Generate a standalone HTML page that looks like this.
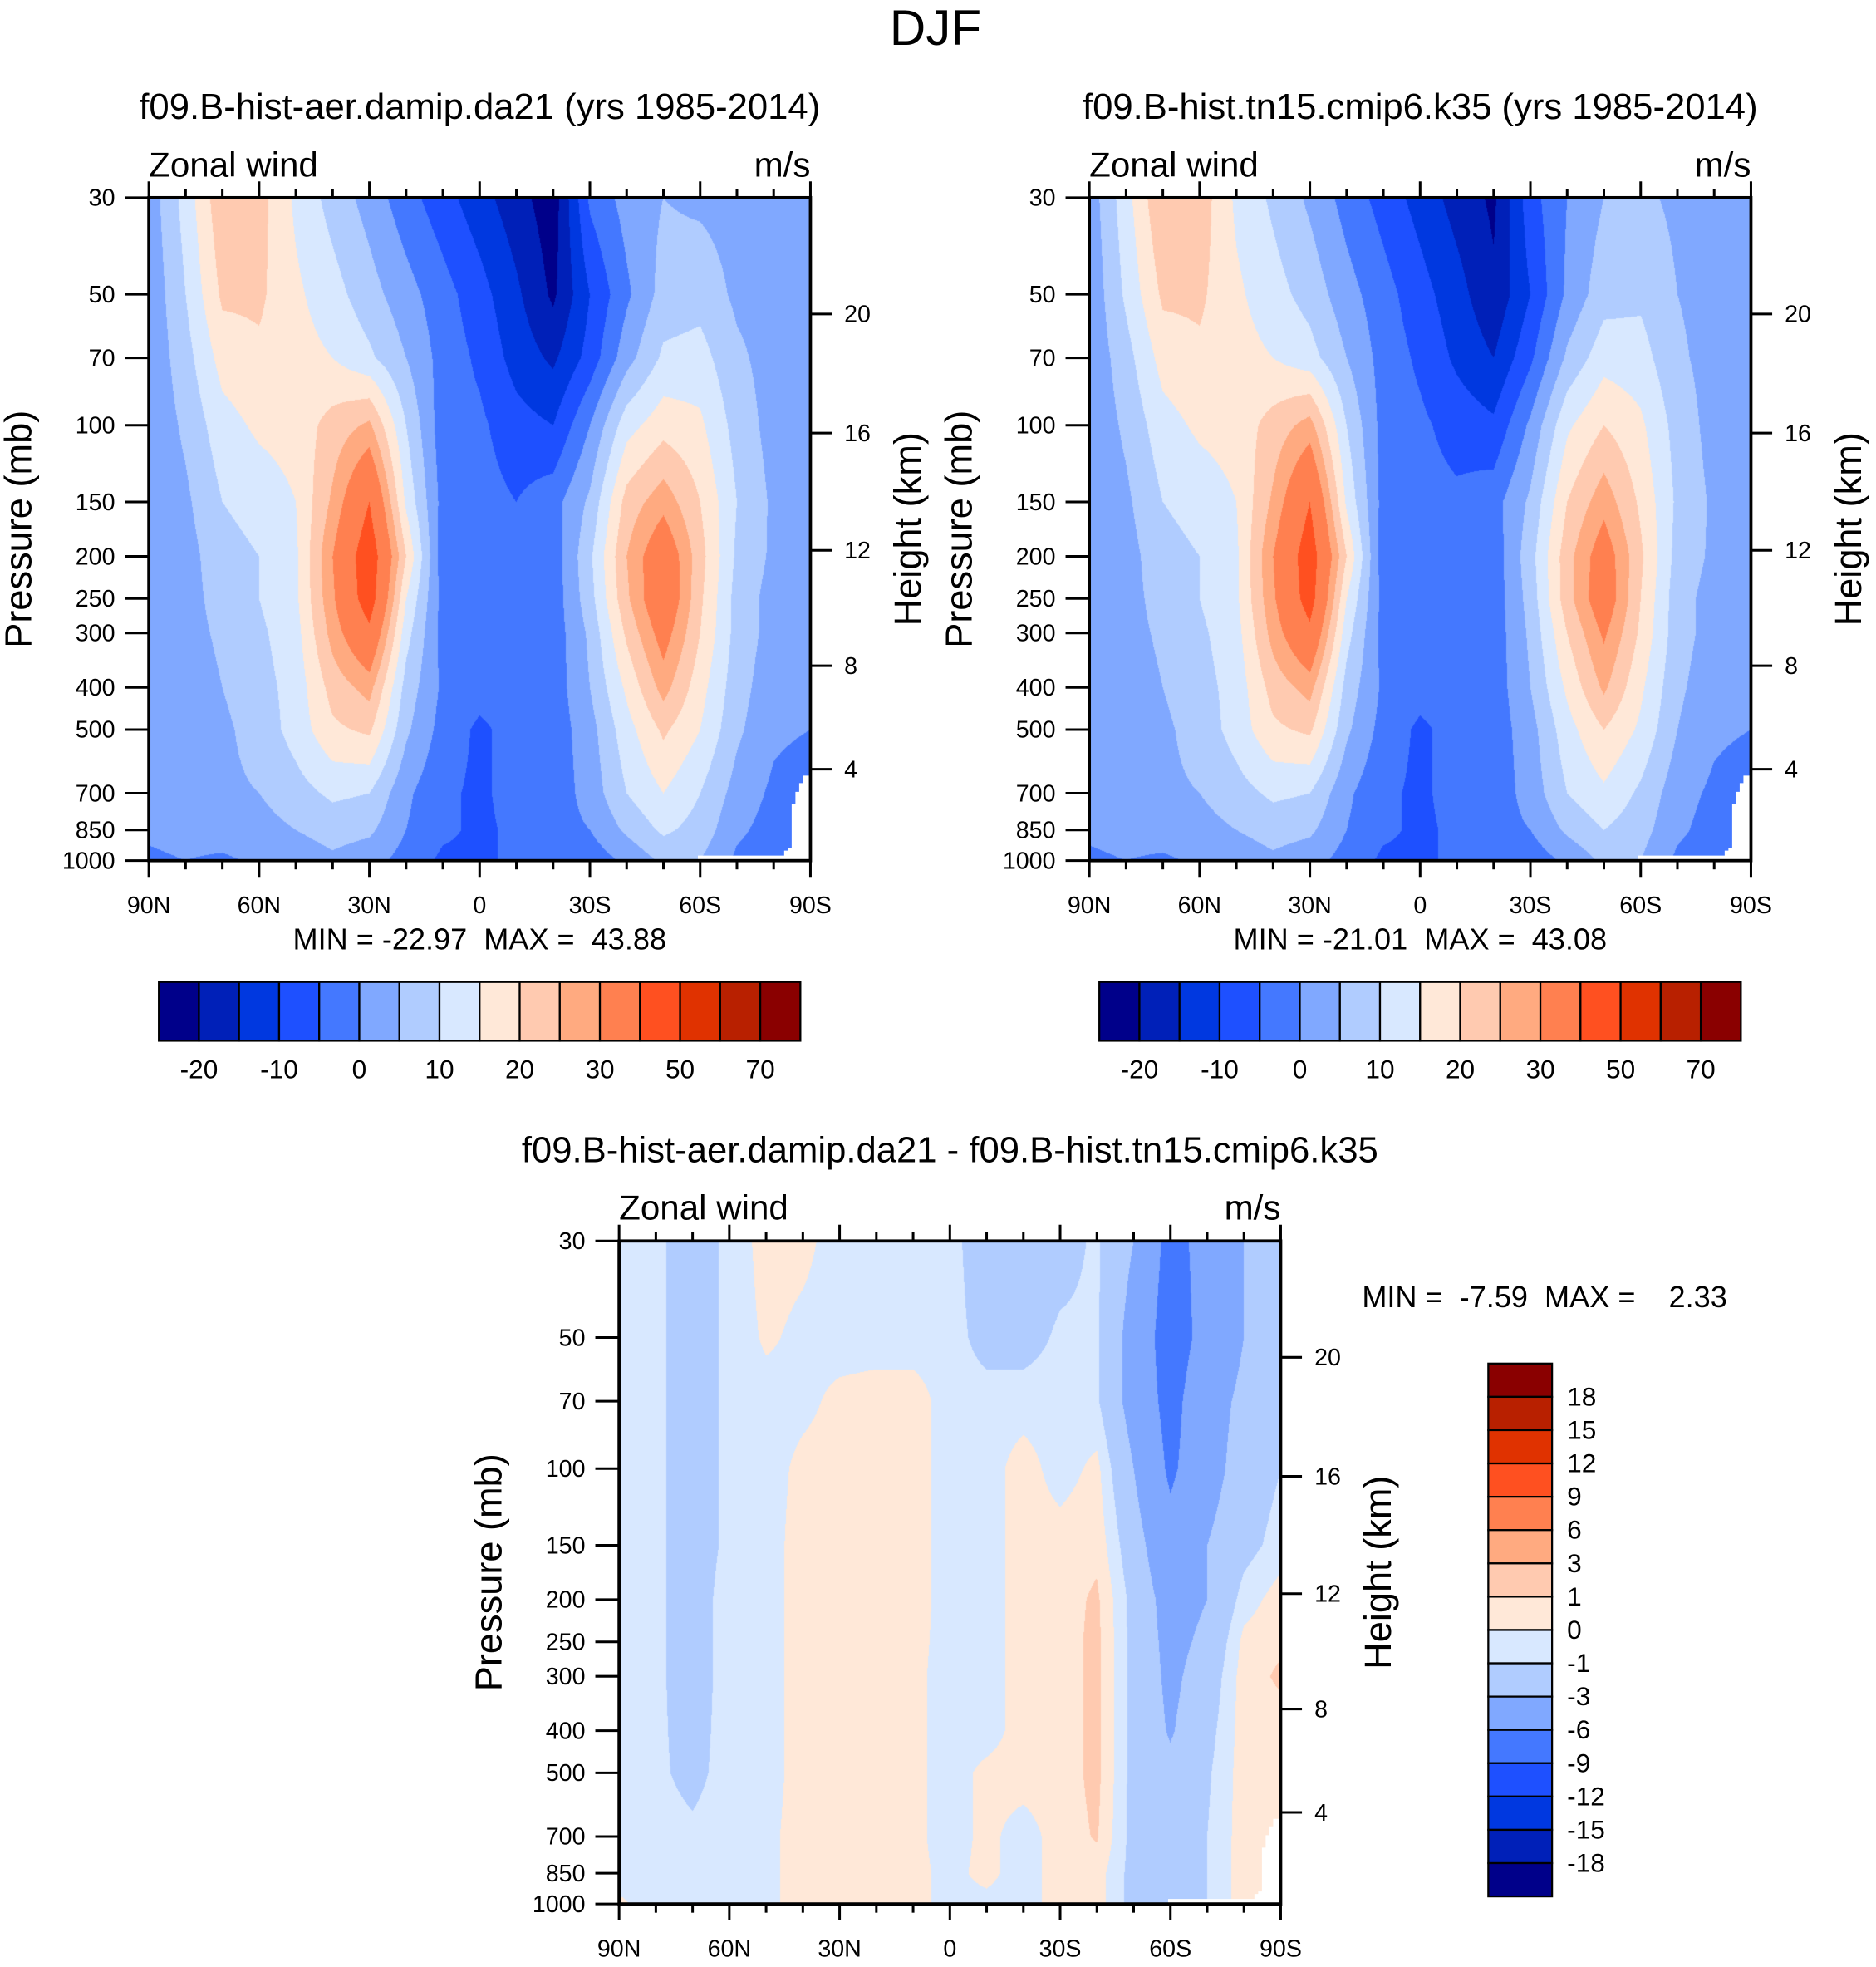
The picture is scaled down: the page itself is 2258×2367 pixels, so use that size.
<!DOCTYPE html>
<html><head><meta charset="utf-8">
<style>
html,body{margin:0;padding:0;background:#fff;}
#wrap{position:relative;width:2258px;height:2367px;overflow:hidden;}
canvas,svg{position:absolute;left:0;top:0;}
text{font-family:"Liberation Sans",Arial,sans-serif;fill:#000;white-space:pre;}
</style></head>
<body>
<div id="wrap">
<canvas id="cv" width="2258" height="2367"></canvas>
<svg id="sv" width="2258" height="2367" viewBox="0 0 1500 1572.4" xml:space="preserve"></svg>
</div>
<script>
// ---- data ----
const lats = [90,80,70,60,50,40,30,20,10,0,-10,-20,-30,-40,-50,-60,-70,-80,-90];
const pLevels = [30,50,70,100,150,200,250,300,400,500,700,850,1000];
const field1 = [
[2,12,24,22,14,8,3,-3,-8,-13,-18,-23,-4,2,5,4,3,2,2],
[1,10,21,21,16,12,7,2,-3,-8,-14,-21,-10,-1,7,8,4,3,2],
[1,8,17,19,17,15,11,5,-2,-6,-12,-16,-8,3,11,12,6,3,2],
[1,6,13,16,17,22,26,10,-3,-4,-8,-10,0,13,18,16,8,3,2],
[1,4,10,12,15,26,40,14,-2,-3,-5,-2,6,22,28,20,10,4,2],
[1,3,8,10,14,30,46,20,-3,-3,-3,-3,9,25,36,22,9,4,2],
[1,3,7,10,14,29,45,15,-2,-3,-3,-3,8,24,37,21,8,3,2],
[1,3,6,9,13,27,38,12,-2,-3,-3,-3,6,21,33,20,8,3,2],
[1,2,5,8,12,22,27,8,-1,-3,-3,-3,5,16,27,17,7,2,1],
[1,2,4,7,12,19,21,6,-2,-6,-3,-3,3,13,21,15,6,1,0],
[1,2,4,5,8,11,10,1,-4,-6,-3,-3,2,10,15,10,3,-1,-3],
[1,2,3,3,5,7,6,0,-4,-6,-4,-2,0,6,11,8,1,-2,-3],
[-1,0,-1,1,2,4,2,-2,-6,-6,-4,-5,-3,1,6,5,-1,-3,-3]];
const field2 = [
[2,13,25,23,14,9,4,-2,-7,-12,-17,-21,-7,0,5,6,4,2,2],
[1,11,21,21,16,12,8,2,-3,-8,-13,-19,-10,1,8,9,5,3,2],
[1,8,17,19,17,15,12,5,-2,-6,-11,-15,-6,6,13,12,6,3,2],
[1,6,13,16,17,22,27,10,-2,-4,-7,-9,1,14,20,16,8,3,2],
[1,4,10,12,15,26,40,14,-2,-3,-4,-2,6,20,28,19,9,4,2],
[1,3,8,10,14,30,45,20,-3,-3,-3,-3,8,23,34,21,8,4,2],
[1,3,7,10,14,29,44,15,-2,-3,-3,-3,7,23,35,20,7,3,2],
[1,3,6,9,13,27,38,12,-2,-3,-3,-3,6,20,31,19,7,3,2],
[1,2,5,8,12,22,27,8,-1,-3,-3,-3,5,16,26,16,6,2,1],
[1,2,4,7,12,19,21,6,-2,-6,-3,-3,3,13,20,14,5,1,0],
[1,2,4,5,8,11,10,1,-4,-6,-3,-3,2,10,14,9,2,-1,-3],
[1,2,3,3,5,7,6,0,-4,-6,-4,-2,0,6,10,7,1,-2,-3],
[-1,0,-1,1,2,4,2,-2,-6,-6,-4,-5,-3,1,6,5,-1,-3,-3]];
const field3 = [
[-0.5,-0.8,-1.5,-0.8,0.5,0.3,-0.5,-0.5,-0.5,-0.5,-2,-2,-1.5,-0.8,-3,-7,-5,-3,-1],
[-0.5,-0.8,-1.5,-0.8,0.2,-0.3,-0.5,-0.5,-0.5,-0.5,-1.5,-1.5,-0.8,-0.8,-4,-7.5,-5,-3,-1],
[-0.5,-0.8,-1.5,-0.8,-0.5,-0.3,0.3,0.5,0.5,-0.5,-0.5,-0.5,-0.5,-0.8,-4,-7,-4,-2.5,-1],
[-0.5,-0.8,-1.5,-0.8,-0.5,0.3,0.5,0.5,0.5,-0.5,-0.5,0.5,-0.5,0.3,-3,-6.5,-4,-2,-1],
[-0.5,-0.8,-1.5,-0.8,-0.5,0.5,0.5,0.5,0.5,-0.5,-0.5,0.5,0.5,0.7,-2,-5,-3,-1.5,-0.5],
[-0.5,-0.8,-1.5,-0.6,-0.5,0.5,0.5,0.5,0.5,-0.5,-0.5,0.5,0.5,1.2,-1.5,-4,-3,-0.5,0.5],
[-0.5,-0.8,-1.5,-0.6,-0.5,0.5,0.5,0.5,0.4,-0.5,-0.5,0.5,0.5,1.3,-1.5,-3.7,-2.5,0.3,0.8],
[-0.5,-0.8,-1.5,-0.6,-0.5,0.5,0.5,0.5,0.3,-0.5,-0.5,0.5,0.5,1.3,-1.5,-3.5,-2,0.5,1.2],
[-0.5,-0.8,-1.4,-0.6,-0.5,0.5,0.5,0.5,0.3,-0.5,-0.5,0.5,0.5,1.3,-1.5,-3.2,-1.5,0.5,0.5],
[-0.5,-0.8,-1.3,-0.6,-0.5,0.5,0.5,0.5,0.3,-0.5,0.3,0.5,0.5,1.3,-1.5,-2.5,-1.2,0.5,0.5],
[-0.5,-0.6,-0.8,-0.5,-0.3,0.5,0.5,0.5,0.3,-0.5,0.3,-0.5,0.5,1.1,-1.5,-1.5,-1,0.5,0.5],
[-0.5,-0.5,-0.5,-0.5,-0.3,0.5,0.5,0.5,0.3,-0.3,0.3,-0.5,0.5,0.5,-1.5,-1.5,-1,0.5,0.5],
[0.2,-0.5,-0.5,-0.5,-0.3,0.5,0.5,0.5,0.3,-0.3,-0.3,-0.5,0.5,0.5,-1.5,-1.5,-1,0.5,0.5]];
const bounds12 = [-20,-15,-10,-5,0,5,10,15,20,25,30,40,50,60,70];
const cbLabels12 = ["-20","-10","0","10","20","30","50","70"];
const bounds3 = [-18,-15,-12,-9,-6,-3,-1,0,1,3,6,9,12,15,18];
const cbLabels3 = ["18","15","12","9","6","3","1","0","-1","-3","-6","-9","-12","-15","-18"];
const pTicks = [30,50,70,100,150,200,250,300,400,500,700,850,1000];
const hTicks = [20,16,12,8,4];
const hTickFrac = [0.1755,0.355,0.532,0.706,0.862];
const xTickLabels = ["90N","60N","30N","0","30S","60S","90S"];
const stats = ["MIN = -22.97  MAX =  43.88","MIN = -21.01  MAX =  43.08","MIN =  -7.59  MAX =    2.33"];
const palette = ["#00008a","#0020b8","#0038e0","#1e50ff","#4478ff","#80a8ff","#b0ccff","#d8e8ff","#ffe8d8","#ffcab0","#ffaa80","#ff8050","#ff5020","#e03200","#b82000","#8a0000"];

const S = 2258/1500;
const W=529, H=530;
const panels = [
 {x:119,y:158,f:field1,b:bounds12,title:"f09.B-hist-aer.damip.da21 (yrs 1985-2014)",name:"panel-aer"},
 {x:871,y:158,f:field2,b:bounds12,title:"f09.B-hist.tn15.cmip6.k35 (yrs 1985-2014)",name:"panel-hist"},
 {x:495,y:992,f:field3,b:bounds3,title:"f09.B-hist-aer.damip.da21 - f09.B-hist.tn15.cmip6.k35",name:"panel-diff"}];

const lp0=Math.log(30), lp1=Math.log(1000);
function yOfP(p,p0){return p0.y+(Math.log(p)-lp0)/(lp1-lp0)*H;}
function xOfLat(lat,p0){return p0.x+(90-lat)/180*W;}
function hexRGB(h){return [parseInt(h.substr(1,2),16),parseInt(h.substr(3,2),16),parseInt(h.substr(5,2),16)];}
const palRGB = palette.map(hexRGB);
const logP = pLevels.map(Math.log);

function sample(f,lat,p){
  let fi=(90-lat)/10; fi=Math.max(0,Math.min(lats.length-1.0001,fi));
  const i=Math.floor(fi), tx=fi-i;
  const lpv=Math.log(p); let j=0;
  while(j<logP.length-2 && lpv>logP[j+1]) j++;
  let ty=(lpv-logP[j])/(logP[j+1]-logP[j]); ty=Math.max(0,Math.min(1,ty));
  const a=f[j][i]*(1-tx)+f[j][i+1]*tx, c=f[j+1][i]*(1-tx)+f[j+1][i+1]*tx;
  return a*(1-ty)+c*ty;
}
function level(v,b){let k=0;while(k<b.length&&v>=b[k])k++;return k;}

// ---- draw fields ----
const ctx=document.getElementById('cv').getContext('2d');
panels.forEach(pn=>{
  const X0=Math.round(pn.x*S), Y0=Math.round(pn.y*S), X1=Math.round((pn.x+W)*S), Y1=Math.round((pn.y+H)*S);
  const w=X1-X0, h=Y1-Y0;
  const img=ctx.createImageData(w,h);
  for(let yy=0;yy<h;yy++){
    const yd=(Y0+yy+0.5)/S; const frac=(yd-pn.y)/H;
    const p=Math.exp(lp0+frac*(lp1-lp0));
    for(let xx=0;xx<w;xx++){
      const xd=(X0+xx+0.5)/S; const lat=90-(xd-pn.x)/W*180;
      const c=palRGB[level(sample(pn.f,lat,p),pn.b)];
      const o=(yy*w+xx)*4; img.data[o]=c[0];img.data[o+1]=c[1];img.data[o+2]=c[2];img.data[o+3]=255;
    }
  }
  ctx.putImageData(img,X0,Y0);
});

// ---- SVG overlay ----
const NS="http://www.w3.org/2000/svg";
const sv=document.getElementById('sv');
function el(tag,attrs,parent,txt){const e=document.createElementNS(NS,tag);for(const k in attrs)e.setAttribute(k,attrs[k]);if(txt!==undefined)e.textContent=txt;(parent||sv).appendChild(e);return e;}
function line(g,x1,y1,x2,y2,sw){return el('line',{x1,y1,x2,y2,stroke:'#000','stroke-width':sw||1.5},g);}

const mt=el('text',{x:748,y:36,'font-size':40,'text-anchor':'middle'},sv,"DJF");



panels.forEach((pn,pi)=>{
  const g=el('g',{});
  
  
  const t=el('text',{x:pn.x+W/2,y:pn.y-63,'font-size':29,'text-anchor':'middle'},g,pn.title);
  
  
  const zw=el('text',{x:pn.x,y:pn.y-17,'font-size':28},g,"Zonal wind");
  
  
  const un=el('text',{x:pn.x+W,y:pn.y-17,'font-size':28,'text-anchor':'end'},g,"m/s");
  
  
  // white ground mask
  const mx=[pn.x+W-21,pn.x+W-18,pn.x+W-15,pn.x+W-12,pn.x+W-9,pn.x+W-6];
  const my=[pn.y+H-8,pn.y+H-10,pn.y+H-45,pn.y+H-55,pn.y+H-62,pn.y+H-68];
  let d=`M${pn.x+W} ${pn.y+H} L${pn.x+W-90} ${pn.y+H} L${pn.x+W-90} ${pn.y+H-4} L${mx[0]} ${pn.y+H-4}`;
  for(let k=0;k<mx.length;k++){d+=` L${mx[k]} ${my[k]}`; if(k+1<mx.length)d+=` L${mx[k+1]} ${my[k]}`;}
  d+=` L${pn.x+W} ${my[my.length-1]} Z`;
  const gm=el('path',{d,fill:'#fff'},g);
  
  
  // frame
  const fr=el('rect',{x:pn.x,y:pn.y,width:W,height:H,fill:'none',stroke:'#000','stroke-width':2.5},g);
  
  
  // pressure ticks
  pTicks.forEach(p=>{const y=yOfP(p,pn);line(g,pn.x-19,y,pn.x,y,2);
    const tl=el('text',{x:pn.x-27,y:y+6.5,'font-size':19,'text-anchor':'end'},g,String(p));
    
    });
  const yt=el('text',{x:0,y:0,'font-size':30,'text-anchor':'middle',transform:`translate(${pn.x-94},${pn.y+H/2}) rotate(-90)`},g,"Pressure (mb)");
  
  
  // height ticks
  hTicks.forEach((hv,k)=>{const y=pn.y+hTickFrac[k]*H;line(g,pn.x+W,y,pn.x+W+17,y,2);
    const hl=el('text',{x:pn.x+W+27,y:y+6.5,'font-size':19},g,String(hv));
    
    });
  const ht=el('text',{x:0,y:0,'font-size':30,'text-anchor':'middle',transform:`translate(${pn.x+W+88},${pn.y+H/2}) rotate(-90)`},g,"Height (km)");
  
  
  // lat ticks
  for(let lat=90;lat>=-90;lat-=10){const x=xOfLat(lat,pn);const maj=(lat%30===0);const L=maj?13:7;
    line(g,x,pn.y+H,x,pn.y+H+L,2);line(g,x,pn.y,x,pn.y-L,2);}
  xTickLabels.forEach((s,k)=>{const xl=el('text',{x:pn.x+k*W/6,y:pn.y+H+42,'font-size':19,'text-anchor':'middle'},g,s);
    
    });
  // stats + colorbars
  if(pi<2){
    const st=el('text',{x:pn.x+W/2,y:pn.y+H+71,'font-size':24,'text-anchor':'middle'},g,stats[pi]);
    
    
    const cx=pn.x+8, cy=785, bw=32.06, bh=47;
    palette.forEach((c,k)=>{const r=el('rect',{x:cx+k*bw,y:cy,width:bw,height:bh,fill:c,stroke:'#000','stroke-width':1.5},g);
      
      });
    cbLabels12.forEach((s,k)=>{const l=el('text',{x:cx+(2*k+1)*bw,y:862,'font-size':21,'text-anchor':'middle'},g,s);
      
      });
  } else {
    const st=el('text',{x:1235,y:1045,'font-size':24,'text-anchor':'middle'},g,stats[2]);
    
    
    const cx=1190, cy=1090, bw=51, bh=26.625;
    palette.slice().reverse().forEach((c,k)=>{const r=el('rect',{x:cx,y:cy+k*bh,width:bw,height:bh,fill:c,stroke:'#000','stroke-width':1.5},g);
      
      });
    cbLabels3.forEach((s,k)=>{const l=el('text',{x:cx+bw+12,y:cy+(k+1)*bh+7,'font-size':21},g,s);
      
      });
  }
});
</script>
</body></html>
